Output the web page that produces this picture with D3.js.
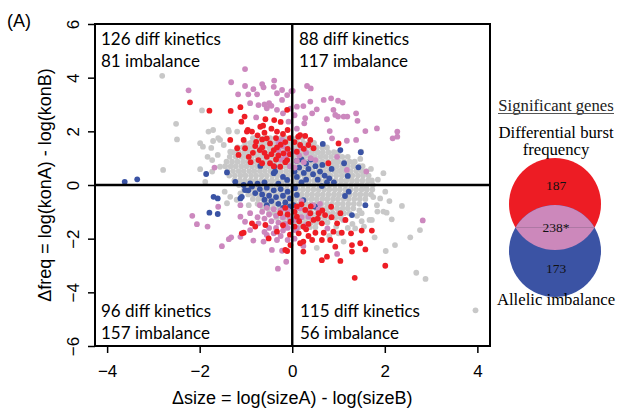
<!DOCTYPE html>
<html><head><meta charset="utf-8">
<script src="https://cdn.jsdelivr.net/npm/d3@7"></script>
<style>body{margin:0;background:#fff}svg{display:block}</style>
</head><body>
<svg id="c" width="619" height="410"></svg>
<script>
// ---------------- data ----------------
const xTicks = [-4, -2, 0, 2, 4];
const yTicks = [-6, -4, -2, 0, 2, 4, 6];
const xTitle = "Δsize = log(sizeA) - log(sizeB)";
const yTitle = "Δfreq = log(konA) - log(konB)";
const panelLabel = "(A)";
const quadrantLabels = [
  ["126 diff kinetics", "81 imbalance"],
  ["88 diff kinetics", "117 imbalance"],
  ["96 diff kinetics", "157 imbalance"],
  ["115 diff kinetics", "56 imbalance"]
];
const legendTitle = "Significant genes";
const vennSetA = ["Differential burst", "frequency"];
const vennSetB = "Allelic imbalance";
const vennCounts = ["187", "238*", "173"];

// dense grey cloud, by rows: [y, [x values]]
const greyCoreRows = [
  [1.75, [-0.85,-0.72,-0.6,-0.48,-0.37,-0.25,-0.14,-0.02,0.1,0.22]],
  [1.57, [-1.02,-0.9,-0.8,-0.68,-0.57,-0.45,-0.34,-0.23,-0.11,0.0,0.12,0.24,0.36,0.47]],
  [1.4, [-1.18,-1.07,-0.95,-0.84,-0.73,-0.62,-0.5,-0.39,-0.28,-0.17,-0.06,0.06,0.18,0.3,0.41,0.53,0.65,0.75]],
  [1.22, [-1.28,-1.16,-1.04,-0.93,-0.82,-0.7,-0.59,-0.48,-0.36,-0.25,-0.14,-0.03,0.09,0.2,0.32,0.43,0.55,0.66,0.78,0.9,1.0]],
  [1.05, [-1.35,-1.22,-1.1,-0.99,-0.88,-0.76,-0.65,-0.53,-0.42,-0.31,-0.19,-0.08,0.03,0.15,0.26,0.38,0.49,0.61,0.72,0.84,0.96,1.08,1.2]],
  [0.87, [-1.42,-1.3,-1.18,-1.06,-0.95,-0.83,-0.72,-0.6,-0.49,-0.38,-0.26,-0.15,-0.04,0.08,0.19,0.31,0.42,0.54,0.65,0.77,0.89,1.0,1.12,1.24,1.35]],
  [0.7, [-1.45,-1.33,-1.22,-1.1,-0.99,-0.87,-0.76,-0.64,-0.53,-0.42,-0.3,-0.19,-0.08,0.04,0.15,0.27,0.38,0.5,0.61,0.73,0.85,0.96,1.08,1.2,1.32,1.45,1.52]],
  [0.52, [-1.4,-1.28,-1.16,-1.05,-0.93,-0.82,-0.7,-0.59,-0.47,-0.36,-0.25,-0.13,-0.02,0.1,0.21,0.33,0.44,0.56,0.68,0.79,0.91,1.02,1.14,1.26,1.38,1.5,1.6]],
  [0.35, [-1.36,-1.24,-1.12,-1.01,-0.89,-0.78,-0.66,-0.55,-0.43,-0.32,-0.2,-0.09,0.03,0.14,0.26,0.37,0.49,0.6,0.72,0.83,0.95,1.07,1.18,1.3,1.42,1.53,1.65]],
  [0.17, [-1.25,-1.13,-1.02,-0.9,-0.79,-0.67,-0.56,-0.44,-0.33,-0.21,-0.1,0.02,0.13,0.25,0.36,0.48,0.59,0.71,0.83,0.94,1.06,1.17,1.29,1.4,1.52,1.64,1.72]],
  [0.0, [-1.15,-1.03,-0.92,-0.8,-0.69,-0.57,-0.46,-0.34,-0.23,-0.11,0.0,0.12,0.23,0.35,0.46,0.58,0.69,0.81,0.92,1.04,1.15,1.27,1.39,1.5,1.62,1.74]],
  [-0.17, [-1.04,-0.92,-0.81,-0.69,-0.58,-0.46,-0.35,-0.23,-0.12,0.0,0.11,0.23,0.34,0.46,0.57,0.69,0.8,0.92,1.03,1.15,1.26,1.38,1.5,1.61,1.73]],
  [-0.35, [-0.95,-0.83,-0.72,-0.6,-0.49,-0.37,-0.26,-0.14,-0.03,0.09,0.2,0.32,0.43,0.55,0.66,0.78,0.9,1.01,1.13,1.24,1.36,1.47,1.59,1.7]],
  [-0.52, [-0.85,-0.73,-0.62,-0.5,-0.39,-0.27,-0.16,-0.04,0.07,0.19,0.3,0.42,0.53,0.65,0.76,0.88,0.99,1.11,1.22,1.34,1.46,1.58]],
  [-0.7, [-0.75,-0.63,-0.52,-0.4,-0.29,-0.17,-0.06,0.06,0.17,0.29,0.4,0.52,0.63,0.75,0.86,0.98,1.09,1.21,1.33,1.45]],
  [-0.87, [-0.64,-0.52,-0.41,-0.29,-0.18,-0.06,0.05,0.17,0.28,0.4,0.51,0.63,0.74,0.86,0.97,1.09,1.2,1.32]],
  [-1.05, [-0.5,-0.38,-0.27,-0.15,-0.04,0.08,0.19,0.31,0.42,0.54,0.65,0.77,0.88,1.0,1.12,1.24]],
  [-1.22, [-0.34,-0.22,-0.11,0.01,0.12,0.24,0.35,0.47,0.58,0.7,0.82,0.93,1.05]],
  [-1.4, [-0.18,-0.06,0.06,0.17,0.29,0.41,0.52,0.64,0.76]],
  [-1.57, [0.02,0.14,0.26,0.38,0.5]]
];

const greyScatter = [
  [-2.81,4.07],[-2.51,2.28],[-2.49,1.70],[-2.79,0.56],[-1.95,2.78],[-1.99,1.56],[-1.93,1.43],[-1.81,1.99],
  [-1.71,2.05],[-1.71,1.64],[-1.75,1.38],[-1.83,1.05],[-1.61,1.12],[-1.73,0.93],[-1.56,1.68],[-1.48,1.49],
  [-1.37,1.99],[-1.34,1.24],[-1.56,0.68],[-1.73,0.50],[-1.99,0.59],[-1.88,0.12],[-1.19,1.99],[-1.60,1.75],
  [-1.38,2.05],[-1.46,-0.25],[-1.34,-0.44],[-1.41,-0.68],[-1.12,-0.31],[-0.94,-0.75],[-1.2,-0.55],
  [2.37,-0.78],[2.01,-0.25],[2.15,-1.28],[2.04,-1.03],[2.76,-1.68],[2.55,-1.95],[2.22,-2.24],[2.02,-2.46],
  [2.68,-3.27],[2.88,-3.50],[1.78,-1.95],[1.84,-0.99],[1.72,-1.30],[1.60,-0.12],[1.50,-1.05],[1.36,-1.62],
  [1.11,-2.11],[0.53,-2.34],[3.96,-4.67],[1.83,-0.75],[1.97,-0.99],[1.67,-1.30],
  [1.97,0.44],[1.47,0.97],[1.34,0.85],[1.07,0.56],[1.25,0.44],[0.93,0.87],[1.49,1.24],[1.24,0.31],
  [1.1,-1.3],[1.3,-1.45],[1.5,-1.35],[1.2,-1.6],[0.95,-1.55],[1.4,-1.15],[1.55,-1.55],[1.45,-0.95],
  [1.9,-0.5],[2.1,-0.6],[1.75,-0.45],[1.85,0.2],[1.7,0.6],[0.8,-1.9],[1.0,-1.8]
];

const bluePoints = [
  [-3.62,0.12],[-3.35,0.21],[-1.86,0.41],[-1.41,0.47],[-1.23,0.12],[-0.91,0.06],[-0.40,0.44],[-0.39,0.68],
  [-0.11,0.19],[-1.70,-0.44],[-1.61,-0.50],[-1.79,-1.03],[-1.61,-1.08],[-1.12,-0.50],[-1.02,-0.19],[-0.55,-0.75],
  [-1.05,0.0],[-0.87,-0.06],[-1.09,-0.44],[-0.37,0.50],[-0.69,0.71],[-0.75,0.05],[-0.6,0.1],[-0.3,0.05],[-0.2,0.3],
  [-0.7,-0.15],[-0.55,-0.1],[-0.4,-0.2],[-0.25,-0.15],[-0.1,-0.25],[-0.65,-0.35],[-0.5,-0.4],[-0.35,-0.45],
  [-0.2,-0.4],[-0.05,-0.5],[-0.45,-0.6],[-0.3,-0.7],[-0.15,-0.65],[-0.6,-0.55],[-0.8,-0.3],[-0.95,-0.2],
  [-0.2,-0.85],[-0.05,-0.8],
  [0.1,0.9],[0.2,0.95],[0.3,0.8],[0.15,0.65],[0.35,0.6],[0.5,0.7],[0.25,0.45],[0.45,0.4],[0.6,0.5],[0.7,0.35],
  [0.1,0.3],[0.3,0.2],[0.55,0.2],[0.8,0.25],[0.9,0.1],[0.65,0.75],[0.85,0.6],[0.4,0.95],[0.05,0.5],[0.2,0.1],[0.75,0.1],
  [0.66,1.53],[1.04,1.30],[1.48,1.22],[1.43,0.66],[1.12,0.81],[1.20,0.34],[1.22,-0.25],[1.58,-0.75],[1.29,-1.12],
  [1.14,-0.41],[0.64,-0.04],[0.50,-0.81],[0.43,-0.78],[0.24,-0.56],[0.10,-0.37],[0.06,-0.12],[0.03,-0.75]
];

const pinkPoints = [
  [-1.02,4.32],[-1.32,3.83],[-2.24,3.53],[-1.17,3.38],[-1.02,3.69],[-0.76,3.38],[-0.65,3.76],[-0.39,3.89],
  [-0.40,3.66],[-0.33,3.42],[-0.11,3.35],[-0.22,3.17],[-0.91,3.05],[-0.73,2.98],[-0.55,2.86],[-0.78,2.52],
  [-0.33,2.80],[-0.20,2.67],[-0.04,2.85],[-0.84,3.57],[-0.62,3.64],[-0.22,3.54],[-0.5,3.05],[-0.45,2.95],
  [-0.08,2.36],[-0.22,1.68],[-0.11,1.30],[-0.30,1.30],[-1.68,0.65],[-0.02,3.5],[-0.6,3.0],[-0.95,3.38],
  [-0.3,1.6],[-0.2,1.45],[-0.1,1.2],[-0.25,0.95],[-0.05,0.7],[-0.15,1.05],
  [0.32,3.69],[0.40,3.60],[0.01,3.51],[0.68,3.17],[0.84,3.23],[0.99,3.14],[1.09,3.07],[0.39,3.11],[0.10,2.92],
  [0.24,2.94],[0.43,2.67],[0.53,2.82],[0.28,2.49],[0.26,2.30],[0.89,2.80],[0.93,2.61],[0.75,2.45],[0.99,2.55],
  [1.11,2.55],[1.19,2.55],[1.38,2.67],[1.41,2.39],[1.58,2.01],[1.83,2.11],[2.27,1.99],[2.17,1.74],[2.27,1.80],
  [0.81,2.01],[0.86,1.74],[1.18,1.65],[1.38,1.68],[0.97,1.05],[1.18,0.56],[1.60,0.50],[0.50,0.93],[0.05,2.6],[0.1,2.1],
  [0.05,1.25],[0.15,1.1],[0.3,1.2],[0.1,0.9],[0.25,0.85],[0.4,1.0],[0.05,0.65],[0.2,1.4],
  [-2.16,-1.15],[-2.06,-1.46],[-1.83,-1.55],[-1.60,-0.81],[-1.52,-2.28],[-1.37,-2.02],[-1.32,-1.95],[-1.12,-1.18],
  [-1.02,-1.37],[-1.12,-1.93],[-0.84,-2.07],[-0.62,-2.11],[-0.44,-2.42],[-0.22,-2.45],[-0.13,-2.86],[-0.31,-3.12],
  [-0.91,-1.68],[-0.73,-1.43],[-0.55,-1.86],[-0.33,-2.05],[-1.12,-0.75],[-0.91,-1.05],
  [-0.7,-0.75],[-0.55,-0.85],[-0.4,-0.9],[-0.25,-0.95],[-0.1,-0.95],[-0.65,-1.0],[-0.5,-1.1],[-0.35,-1.15],
  [-0.2,-1.2],[-0.05,-1.25],[-0.6,-1.25],[-0.45,-1.35],[-0.3,-1.4],[-0.15,-1.45],[-0.5,-1.6],[-0.35,-1.6],
  [-0.2,-1.7],[-0.1,-1.6],[-0.4,-1.8],[-0.25,-1.9],[-0.1,-2.05],[-0.6,-1.75],[-0.75,-1.2],
  [0.1,-0.85],[0.2,-0.6],[0.3,-0.95],[0.05,-1.3],[0.2,-1.2],[0.1,-1.6],[0.45,-0.75],[0.6,-0.7],[0.3,-1.5],
  [0.97,-2.57],[1.14,-1.30],[0.24,-2.27],[0.06,-1.68],[0.17,-0.87],[0.35,-1.18],[0.57,-0.91],[0.76,-1.62],
  [2.82,-1.32],[0.05,-2.0]
];

const redPoints = [
  [-2.21,3.08],[-1.79,2.77],[-1.33,2.76],[-1.12,2.90],[-1.03,2.55],[-1.10,2.36],[-0.58,2.45],[-0.39,2.42],
  [-0.63,2.21],[-0.87,1.99],[-0.96,2.05],[-1.34,1.68],[-1.05,1.68],[-0.78,1.61],[-0.55,1.74],[-0.33,1.99],
  [-0.48,1.55],[-0.65,1.40],[-0.33,1.40],[-1.19,1.37],[-1.02,1.37],[-1.16,1.12],[-0.94,1.05],[-0.73,0.93],
  [-0.55,1.05],[-0.65,0.81],[-0.48,0.81],[-0.19,1.18],[-0.11,0.93],[-0.26,0.68],[-0.11,2.80],[-0.69,2.17],[-0.98,1.99],
  [-0.75,1.85],[-0.6,1.95],[-0.45,2.1],[-0.2,1.9],[-0.1,2.05],[-0.65,1.7],[-0.35,1.75],[-0.15,1.6],[-0.05,1.75],
  [-0.8,1.45],[-0.7,1.3],[-0.4,1.3],[-0.25,1.5],[-0.1,1.35],[-0.6,1.2],[-0.45,1.15],[-0.3,1.1],[-0.05,1.15],
  [-0.85,1.2],[-0.35,0.95],[-0.15,0.85],[-0.4,0.7],[-0.9,0.85],[-0.25,2.35],
  [0.13,1.80],[0.17,1.86],[0.28,1.83],[0.39,1.68],[0.35,1.49],[0.46,1.37],[0.10,1.24],[0.78,0.81],[1.0,1.55],
  [0.17,1.49],[0.05,1.6],[0.25,1.35],
  [0.84,-0.81],[1.04,-1.05],[0.71,-1.12],[0.57,-1.05],[0.39,-1.05],[0.28,-0.93],[0.46,-1.30],[0.64,-1.43],
  [0.97,-1.43],[0.24,-1.55],[0.50,-1.78],[0.68,-1.78],[0.89,-1.74],[1.07,-1.78],[1.27,-1.80],[1.50,-1.70],
  [1.72,-1.70],[0.64,-2.05],[0.82,-2.05],[0.43,-2.05],[0.24,-2.11],[1.47,-2.17],[1.29,-2.24],[0.93,-2.30],
  [1.29,-2.48],[1.58,-2.40],[0.75,-2.67],[0.64,-2.80],[1.04,-2.83],[0.24,-2.48],[2.01,-3.01],[1.35,-3.46],
  [0.10,-1.18],[0.14,-1.80],[0.17,-2.17],
  [0.1,-0.8],[0.2,-0.72],[0.05,-1.0],[0.15,-1.35],[0.35,-1.45],[0.55,-1.25],[0.3,-1.65],[0.85,-1.2],
  [1.15,-1.3],[0.65,-0.95],[0.4,-0.8],[0.05,-1.55],[0.35,-1.9],
  [-0.80,-1.55],[-1.05,-1.78],[-0.87,-1.43],[-0.33,-1.74],[-0.11,-2.46],[-0.26,-1.05],[-0.04,-2.24],
  [-1.09,-1.80],[-0.58,-1.49],[-0.04,-1.37],[-0.51,-1.99],[-0.15,-2.42],[-0.1,-1.1],[-0.2,-1.5],[-0.05,-1.85],[-0.15,-0.85]
];

// ---------------- drawing ----------------
const svg = d3.select("#c");
const SANS = "'Liberation Sans', Arial, sans-serif";
const MYR = "Lato, 'Open Sans', sans-serif";
const SERIF = "'Liberation Serif', 'Times New Roman', serif";
const C = {grey:"#c8c8c8", blue:"#3a53a4", pink:"#cc88be", red:"#ee1d25"};

const x = d3.scaleLinear().domain([-4.262, 4.273]).range([95, 490]);
const y = d3.scaleLinear().domain([-6, 6]).range([346, 24]);
const R = 2.9;

const greyCore = [];
greyCoreRows.forEach(([yy, xs]) => xs.forEach(xx => greyCore.push([xx, yy])));

const gPts = svg.append("g");
function dots(data, col) {
  gPts.append("g").selectAll("circle").data(data).join("circle")
    .attr("cx", d => x(d[0])).attr("cy", d => y(d[1])).attr("r", R).attr("fill", col);
}
dots(greyCore, C.grey);
dots(greyScatter, C.grey);
dots(bluePoints, C.blue);
dots(pinkPoints, C.pink);
dots(redPoints, C.red);

// zero lines
svg.append("line").attr("x1", x.range()[0]).attr("x2", x.range()[1]).attr("y1", y(0)).attr("y2", y(0))
  .attr("stroke", "#000").attr("stroke-width", 2.4);
svg.append("line").attr("y1", y.range()[0]).attr("y2", y.range()[1]).attr("x1", x(0)).attr("x2", x(0))
  .attr("stroke", "#000").attr("stroke-width", 2.4);
// frame
svg.append("rect").attr("x", 95).attr("y", 24).attr("width", 395).attr("height", 322)
  .attr("fill", "none").attr("stroke", "#000").attr("stroke-width", 2);

const fmt = d => d < 0 ? "\u2212" + Math.abs(d) : String(d);
// x axis
const gx = svg.append("g").attr("transform", "translate(0,346)")
  .call(d3.axisBottom(x).tickValues(xTicks).tickSize(7).tickSizeOuter(0).tickFormat(fmt));
gx.select(".domain").remove();
gx.selectAll("line").attr("stroke-width", 1.5);
gx.selectAll("text").attr("y", 31).attr("dy", null).style("font-family", SANS).style("font-size", "17px").attr("fill", "#000");
// y axis
const gy = svg.append("g").attr("transform", "translate(95,0)")
  .call(d3.axisLeft(y).tickValues(yTicks).tickSize(7).tickSizeOuter(0).tickFormat(fmt));
gy.select(".domain").remove();
gy.selectAll("line").attr("stroke-width", 1.5);
gy.selectAll("text").attr("x", 0).attr("y", 0).attr("dy", null).attr("text-anchor", "middle")
  .attr("transform", "translate(-16,0) rotate(-90)")
  .style("font-family", SANS).style("font-size", "17px").attr("fill", "#000");

// axis titles
svg.append("text").attr("x", x(0)).attr("y", 404).attr("text-anchor", "middle")
  .style("font-family", SANS).style("font-size", "18px").text(xTitle);
svg.append("text").attr("transform", `translate(51,${y(0)}) rotate(-90)`).attr("text-anchor", "middle")
  .style("font-family", SANS).style("font-size", "18px").text(yTitle);
svg.append("text").attr("x", 7).attr("y", 27).style("font-family", SANS).style("font-size", "18px").text(panelLabel);

// quadrant labels
const qpos = [[101, 45], [299, 45], [101, 317], [300, 317]];
quadrantLabels.forEach((lines, i) => {
  lines.forEach((t, j) => {
    svg.append("text").attr("x", qpos[i][0]).attr("y", qpos[i][1] + j * 22)
      .style("font-family", MYR).style("font-size", "17px").text(t);
  });
});

// legend / venn
const cx = 556;
svg.append("text").attr("x", cx).attr("y", 111).attr("text-anchor", "middle")
  .style("font-family", SERIF).style("font-size", "16.7px").attr("fill", "#222").text(legendTitle);
svg.append("line").attr("x1", 498).attr("x2", 614).attr("y1", 113.5).attr("y2", 113.5)
  .attr("stroke", "#555").attr("stroke-width", 1);
vennSetA.forEach((t, j) => svg.append("text").attr("x", cx).attr("y", 137.5 + j * 17.5).attr("text-anchor", "middle")
  .style("font-family", SERIF).style("font-size", "16.7px").text(t));

const rA = {cx: 555, cy: 204, r: 46}, rB = {cx: 555, cy: 251, r: 46};
const defs = svg.append("defs");
defs.append("clipPath").attr("id", "clipA").append("circle").attr("cx", rA.cx).attr("cy", rA.cy).attr("r", rA.r);
svg.append("circle").attr("cx", rA.cx).attr("cy", rA.cy).attr("r", rA.r).attr("fill", "#ed1c24");
svg.append("circle").attr("cx", rB.cx).attr("cy", rB.cy).attr("r", rB.r).attr("fill", "#3b53a4");
svg.append("circle").attr("cx", rB.cx).attr("cy", rB.cy).attr("r", rB.r).attr("fill", "#cc88bb").attr("clip-path", "url(#clipA)");
svg.append("line").attr("x1", 516).attr("x2", 594).attr("y1", 227.5).attr("y2", 227.5).attr("stroke", "#9a6d95").attr("stroke-width", 0.6);

const countY = [190, 232, 273];
vennCounts.forEach((t, i) => svg.append("text").attr("x", cx).attr("y", countY[i]).attr("text-anchor", "middle")
  .style("font-family", SERIF).style("font-size", "13.5px").attr("fill", "#111").text(t));
svg.append("text").attr("x", cx).attr("y", 305).attr("text-anchor", "middle")
  .style("font-family", SERIF).style("font-size", "16.7px").text(vennSetB);
</script>
</body></html>
